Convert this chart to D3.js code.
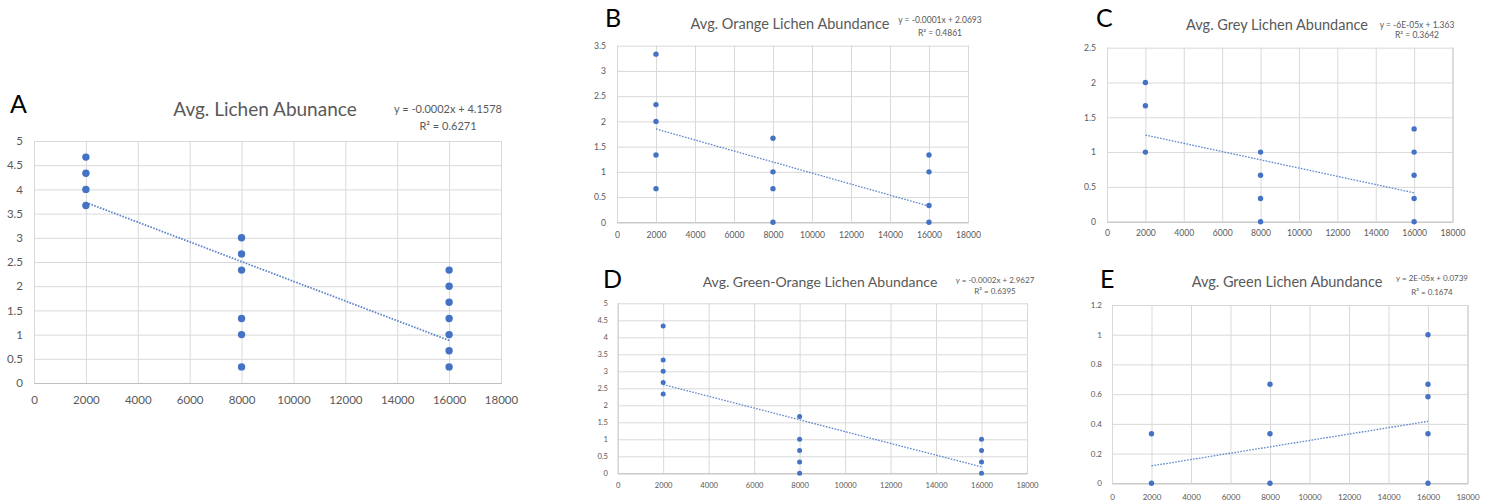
<!DOCTYPE html>
<html><head><meta charset="utf-8">
<script src="https://cdn.jsdelivr.net/npm/d3@7"></script>
<style>html,body{margin:0;padding:0;background:#fff;}svg{display:block;font-family:Lato,"Open Sans",sans-serif;}</style>
</head><body>
<svg id="c" width="1496" height="504"></svg>
<script>
// ---------- DATA ----------
const distances = [2000, 8000, 16000];
const xTicks = [0, 2000, 4000, 6000, 8000, 10000, 12000, 14000, 16000, 18000];
const panelLetters = ["A", "B", "C", "D", "E"];
const titles = ["Avg. Lichen Abunance", "Avg. Orange Lichen Abundance", "Avg. Grey Lichen Abundance",
                "Avg. Green-Orange Lichen Abundance", "Avg. Green Lichen Abundance"];
const equations = ["y = -0.0002x + 4.1578", "y = -0.0001x + 2.0693", "y = -6E-05x + 1.363",
                   "y = -0.0002x + 2.9627", "y = 2E-05x + 0.0739"];
const rSquared = ["R² = 0.6271", "R² = 0.4861", "R² = 0.3642", "R² = 0.6395", "R² = 0.1674"];
// values grouped by distance (2000, 8000, 16000)
const lichenAll = [[4.667, 4.333, 4, 3.667], [3, 2.667, 2.333, 1.333, 1, 0.333], [2.333, 2, 1.667, 1.333, 1, 0.667, 0.333]];
const lichenOrange = [[3.333, 2.333, 2, 1.333, 0.667], [1.667, 1, 0.667, 0], [1.333, 1, 0.333, 0]];
const lichenGrey = [[2, 1.667, 1], [1, 0.667, 0.333, 0], [1.333, 1, 0.667, 0.333, 0]];
const lichenGreenOrange = [[4.333, 3.333, 3, 2.667, 2.333], [1.667, 1, 0.667, 0.333, 0], [1, 0.667, 0.333, 0]];
const lichenGreen = [[0.333, 0], [0.667, 0.333, 0], [1, 0.667, 0.583, 0.333, 0]];
// trendline values at x = 2000 and x = 16000
const trendAll = [3.73, 0.88];
const trendOrange = [1.85, 0.32];
const trendGrey = [1.245, 0.415];
const trendGreenOrange = [2.61, 0.19];
const trendGreen = [0.117, 0.417];
const yMax = [5, 3.5, 2.5, 5, 1.2];
const yStep = [0.5, 0.5, 0.5, 0.5, 0.2];

const seriesList = [lichenAll, lichenOrange, lichenGrey, lichenGreenOrange, lichenGreen];
const trendList = [trendAll, trendOrange, trendGrey, trendGreenOrange, trendGreen];

// ---------- LAYOUT ----------
const layouts = [
  {x0: 34, x1: 501, yb: 383, yt: 141, tick: 11.5, yLabR: 23, xLabY: 404, r: 3.7,
   title: {x: 265, y: 116, s: 19}, eq: {x: 448, y1: 113, y2: 130, s: 11}, letter: {x: 10, y: 112.5, s: 25}, tw: 1.8},
  {x0: 617, x1: 968, yb: 222.3, yt: 45.7, tick: 8.6, yLabR: 606, xLabY: 238, r: 2.7,
   title: {x: 790, y: 28.5, s: 14.5}, eq: {x: 940, y1: 23, y2: 36, s: 8.5}, letter: {x: 605, y: 27, s: 25}, tw: 1.3},
  {x0: 1107, x1: 1452.5, yb: 221.7, yt: 47.7, tick: 8.6, yLabR: 1096, xLabY: 236, r: 2.7,
   title: {x: 1277, y: 30, s: 14.5}, eq: {x: 1417, y1: 28, y2: 38, s: 8.5}, letter: {x: 1096, y: 27, s: 25}, tw: 1.3},
  {x0: 617.7, x1: 1027, yb: 473.3, yt: 303.3, tick: 7.6, yLabR: 608, xLabY: 488, r: 2.5,
   title: {x: 820, y: 287, s: 14}, eq: {x: 995, y1: 283, y2: 294, s: 8}, letter: {x: 603, y: 288, s: 25}, tw: 1.3},
  {x0: 1112, x1: 1467.5, yb: 483.3, yt: 305, tick: 8, yLabR: 1102, xLabY: 500, r: 2.7,
   title: {x: 1287, y: 287, s: 14.5}, eq: {x: 1432, y1: 281, y2: 295, s: 8}, letter: {x: 1100, y: 288, s: 25}, tw: 1.3}
];

const blue = "#4472C4", grid = "#d9d9d9", textGrey = "#595959";
const svg = d3.select("#c");

seriesList.forEach((series, i) => {
  const L = layouts[i];
  const g = svg.append("g");
  const x = d3.scaleLinear().domain([0, 18000]).range([L.x0, L.x1]);
  const y = d3.scaleLinear().domain([0, yMax[i]]).range([L.yb, L.yt]);
  const yTicks = d3.range(0, yMax[i] + yStep[i] / 2, yStep[i]).map(v => +v.toFixed(2));

  // horizontal gridlines + y labels
  const yAxis = d3.axisLeft(y).tickValues(yTicks).tickSize(-(L.x1 - L.x0)).tickPadding(L.x0 - L.yLabR)
    .tickFormat(d => d3.format("~g")(d));
  const ya = g.append("g").attr("transform", `translate(${L.x0},0)`).call(yAxis);
  ya.select(".domain").remove();
  ya.selectAll("line").attr("stroke", grid).attr("stroke-width", 1);
  ya.selectAll("text").attr("fill", textGrey).attr("font-size", L.tick).attr("font-family", "Lato");

  // vertical gridlines + x labels
  const xAxis = d3.axisBottom(x).tickValues(xTicks).tickSize(-(L.yb - L.yt)).tickPadding(0)
    .tickFormat(d3.format("d"));
  const xa = g.append("g").attr("transform", `translate(0,${L.yb})`).call(xAxis);
  xa.select(".domain").attr("stroke", "#bfbfbf");
  xa.selectAll("line").attr("stroke", grid).attr("stroke-width", 1);
  xa.selectAll("text").attr("fill", textGrey).attr("font-size", L.tick).attr("font-family", "Lato")
    .attr("dy", null).attr("y", L.xLabY - L.yb);

  // points
  const pts = [];
  series.forEach((vals, k) => vals.forEach(v => pts.push({x: distances[k], y: v})));
  g.selectAll("circle.pt").data(pts).enter().append("circle")
    .attr("cx", d => x(d.x)).attr("cy", d => y(d.y)).attr("r", L.r).attr("fill", blue);

  // trendline
  const tr = trendList[i];
  g.append("line")
    .attr("x1", x(distances[0])).attr("y1", y(tr[0]))
    .attr("x2", x(distances[2])).attr("y2", y(tr[1]))
    .attr("stroke", blue).attr("stroke-width", L.tw).attr("stroke-dasharray", "1.6,1.4").attr("opacity", 0.85);

  // title
  g.append("text").attr("x", L.title.x).attr("y", L.title.y).attr("text-anchor", "middle")
    .attr("font-size", L.title.s).attr("fill", textGrey).text(titles[i]);
  // equation
  g.append("text").attr("x", L.eq.x).attr("y", L.eq.y1).attr("text-anchor", "middle")
    .attr("font-size", L.eq.s).attr("fill", textGrey).text(equations[i]);
  g.append("text").attr("x", L.eq.x).attr("y", L.eq.y2).attr("text-anchor", "middle")
    .attr("font-size", L.eq.s).attr("fill", textGrey).text(rSquared[i]);
  // panel letter
  g.append("text").attr("x", L.letter.x).attr("y", L.letter.y)
    .attr("font-size", L.letter.s).attr("fill", "#000").text(panelLetters[i]);
});
</script>
</body></html>
